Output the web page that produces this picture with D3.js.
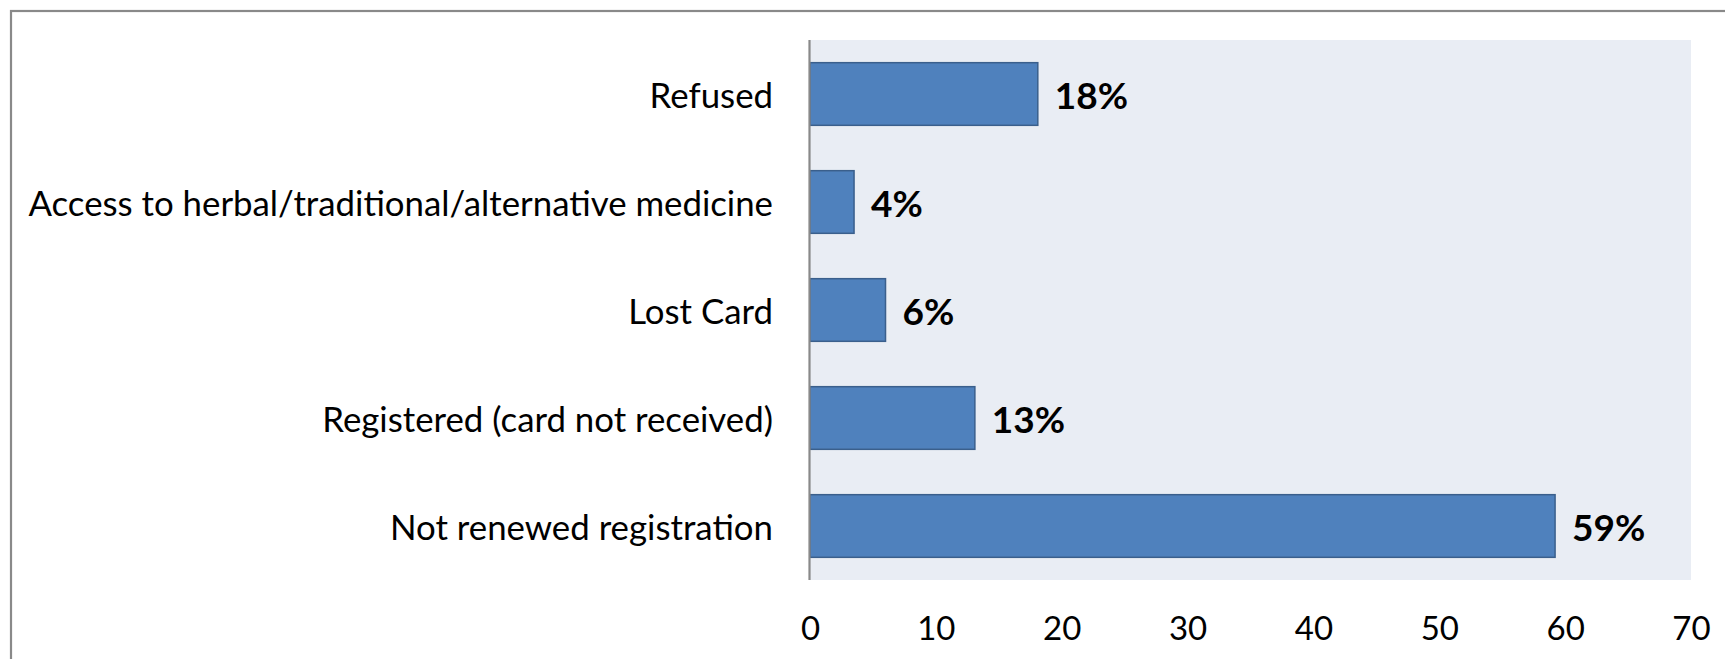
<!DOCTYPE html>
<html>
<head>
<meta charset="utf-8">
<script src="https://cdn.jsdelivr.net/npm/d3@7"></script>
<style>
  html, body { margin: 0; padding: 0; background: #ffffff; }
  svg { display: block; }
</style>
</head>
<body>
<svg id="chart" width="1725" height="659"></svg>
<script>
// ---- data ----
const categories = [
  "Refused",
  "Access to herbal/traditional/alternative medicine",
  "Lost Card",
  "Registered (card not received)",
  "Not renewed registration"
];
const values = [18.1, 3.5, 6.0, 13.1, 59.2];
const valueLabels = ["18%", "4%", "6%", "13%", "59%"];
const xTicks = [0, 10, 20, 30, 40, 50, 60, 70];

// ---- layout ----
const W = 1725, H = 659;
const plot = { left: 810, right: 1691, top: 40, bottom: 580 };
const font = "Lato, 'Open Sans', 'DejaVu Sans', sans-serif";
const catSize = 34.8, tickSize = 33, valSize = 37;

const svg = d3.select("#chart");

// outer frame (extends beyond the visible area on right/bottom)
svg.append("rect")
  .attr("x", 11).attr("y", 11)
  .attr("width", W + 20).attr("height", H + 20)
  .attr("fill", "#ffffff")
  .attr("stroke", "#898989").attr("stroke-width", 2.2);

const x = d3.scaleLinear().domain([0, 70]).range([plot.left, plot.right]);
const y = d3.scaleBand().domain(categories)
  .range([plot.top, plot.bottom])
  .paddingInner(0.42).paddingOuter(0.21);

// plot background
svg.append("rect")
  .attr("x", plot.left).attr("y", plot.top)
  .attr("width", plot.right - plot.left).attr("height", plot.bottom - plot.top)
  .attr("fill", "#E9EDF4");

// bars
svg.append("g").selectAll("rect")
  .data(categories)
  .join("rect")
  .attr("x", x(0))
  .attr("y", d => y(d))
  .attr("width", (d, i) => x(values[i]) - x(0))
  .attr("height", y.bandwidth())
  .attr("fill", "#4F81BD")
  .attr("stroke", "#3A5F8C")
  .attr("stroke-width", 1.5);

// vertical axis line
svg.append("line")
  .attr("x1", plot.left - 0.5).attr("x2", plot.left - 0.5)
  .attr("y1", plot.top).attr("y2", plot.bottom)
  .attr("stroke", "#898989").attr("stroke-width", 2.2);

// category labels via axis
const yAxis = d3.axisLeft(y).tickSize(0).tickPadding(0);
const yg = svg.append("g")
  .attr("transform", `translate(${plot.left - 37},0)`)
  .call(yAxis);
yg.select(".domain").remove();
yg.selectAll("text")
  .attr("font-family", font)
  .attr("font-size", catSize)
  .attr("fill", "#000")
  .attr("dy", null)
  .attr("dominant-baseline", "central");

// value labels
svg.append("g").selectAll("text")
  .data(categories)
  .join("text")
  .attr("x", (d, i) => x(values[i]) + 17)
  .attr("y", d => y(d) + y.bandwidth() / 2 + 15)
  .attr("font-family", font)
  .attr("font-size", valSize)
  .attr("font-weight", "bold")
  .attr("fill", "#000")
  .text((d, i) => valueLabels[i]);

// x axis tick labels
const xAxis = d3.axisBottom(x).tickValues(xTicks).tickSize(0).tickPadding(0);
const xg = svg.append("g")
  .attr("transform", `translate(0,${plot.bottom})`)
  .call(xAxis);
xg.select(".domain").remove();
xg.selectAll("text")
  .attr("font-family", font)
  .attr("font-size", tickSize)
  .attr("fill", "#000")
  .attr("dy", null)
  .attr("y", 59.5)
  .attr("text-anchor", "middle");
</script>
</body>
</html>
